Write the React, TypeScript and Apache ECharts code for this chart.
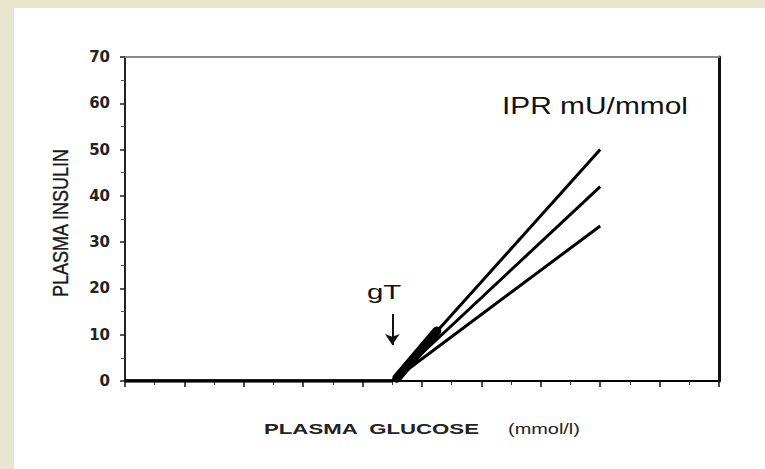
import React, { useEffect, useRef } from "react";
import * as echarts from "echarts";

// Axis ranges
const glucoseRange = [0, 20];
const glucoseInterval = 2;
const insulinRange = [0, 70];
const insulinInterval = 10;

// Glucose threshold (gT) and end of the response lines
const thresholdGlucose = 9;
const endGlucose = 16;

// Insulin at end of each line (three IPR values)
const iprEndInsulin = [50, 42, 33.5];

// Arrow marking gT (from, to insulin values)
const arrowInsulin = [14.5, 7.8];

// Dense overlapping start of the lines
const smudgePoints = [
  [9.15, 0.6],
  [10.5, 10.8],
];

export default function App() {
  const ref = useRef<HTMLDivElement>(null);

  useEffect(() => {
    if (!ref.current) return;
    const chart = echarts.init(ref.current, null, { renderer: "svg" });

    const lineSeries = iprEndInsulin.map((v, i) => ({
      type: "line",
      name: "IPR " + (i + 1),
      data: [
        [glucoseRange[0], 0],
        [thresholdGlucose, 0],
        [endGlucose, v],
      ],
      symbol: "none",
      lineStyle: { color: "#000", width: 3 },
      z: 5,
      markLine:
        i === 0
          ? {
              silent: true,
              symbol: ["none", "arrow"],
              symbolSize: 11,
              label: { show: false },
              lineStyle: { color: "#111", width: 2, type: "solid" },
              data: [
                [
                  { coord: [thresholdGlucose, arrowInsulin[0]] },
                  { coord: [thresholdGlucose, arrowInsulin[1]] },
                ],
              ],
            }
          : undefined,
    }));

    chart.setOption({
      animation: false,
      backgroundColor: "#e9e6d0",
      grid: { left: 125, right: 46, top: 57, bottom: 88, containLabel: false },
      xAxis: [
        {
          type: "value",
          min: glucoseRange[0],
          max: glucoseRange[1],
          interval: glucoseInterval,
          axisLine: { show: true, onZero: false, lineStyle: { color: "#000", width: 2 } },
          axisTick: { show: true, inside: false, length: 6, lineStyle: { color: "#111", width: 1.5 } },
          minorTick: { show: true, splitNumber: 2, length: 4, lineStyle: { color: "#333", width: 1 } },
          axisLabel: { show: false },
          splitLine: { show: false },
        },
        {
          type: "value",
          position: "top",
          min: glucoseRange[0],
          max: glucoseRange[1],
          axisLine: { show: true, onZero: false, lineStyle: { color: "#8a8a8a", width: 2 } },
          axisTick: { show: false },
          axisLabel: { show: false },
          splitLine: { show: false },
        },
      ],
      yAxis: [
        {
          type: "value",
          min: insulinRange[0],
          max: insulinRange[1],
          interval: insulinInterval,
          axisLine: { show: true, onZero: false, lineStyle: { color: "#222", width: 2 } },
          axisTick: { show: true, inside: false, length: 5, lineStyle: { color: "#222", width: 1.5 } },
          minorTick: { show: true, splitNumber: 2, length: 4, lineStyle: { color: "#555", width: 1 } },
          axisLabel: {
            show: true,
            margin: 15,
            fontFamily: "DejaVu Sans",
            fontWeight: "bold",
            fontSize: 15,
            color: "#222",
          },
          splitLine: { show: false },
        },
        {
          type: "value",
          position: "right",
          min: insulinRange[0],
          max: insulinRange[1],
          axisLine: { show: true, onZero: false, lineStyle: { color: "#111", width: 3 } },
          axisTick: { show: false },
          axisLabel: { show: false },
          splitLine: { show: false },
        },
      ],
      graphic: [
        {
          type: "rect",
          z: -100,
          silent: true,
          shape: { x: 14, y: 8, width: 765, height: 469 },
          style: { fill: "#ffffff" },
        },
        {
          type: "text",
          x: 60,
          y: 223,
          rotation: Math.PI / 2,
          scaleY: 1.2,
          style: {
            text: "PLASMA INSULIN",
            font: "18px 'Liberation Sans', Arial, sans-serif",
            fill: "#1a1a1a",
            stroke: "#1a1a1a",
            lineWidth: 0.3,
            textAlign: "center",
            textVerticalAlign: "middle",
          },
        },
        {
          type: "text",
          x: 264,
          y: 429,
          scaleX: 1.48,
          style: {
            text: "PLASMA  GLUCOSE",
            font: "bold 15px 'Liberation Sans', Arial, sans-serif",
            fill: "#222",
            textAlign: "left",
            textVerticalAlign: "middle",
          },
        },
        {
          type: "text",
          x: 508,
          y: 429,
          scaleX: 1.33,
          style: {
            text: "(mmol/l)",
            font: "15px 'Liberation Sans', Arial, sans-serif",
            fill: "#222",
            textAlign: "left",
            textVerticalAlign: "middle",
          },
        },
        {
          type: "text",
          x: 502,
          y: 106,
          scaleX: 1.3,
          style: {
            text: "IPR mU/mmol",
            font: "23px 'Liberation Sans', Arial, sans-serif",
            fill: "#111",
            textAlign: "left",
            textVerticalAlign: "middle",
          },
        },
        {
          type: "text",
          x: 367,
          y: 292,
          scaleX: 1.4,
          style: {
            text: "gT",
            font: "21px 'Liberation Sans', Arial, sans-serif",
            fill: "#111",
            textAlign: "left",
            textVerticalAlign: "middle",
          },
        },
      ],
      series: [
        ...lineSeries,
        {
          type: "line",
          name: "start",
          data: smudgePoints,
          symbol: "none",
          lineStyle: { color: "#000", width: 9, cap: "round" },
          z: 4,
        },
      ],
    });

    return () => chart.dispose();
  }, []);

  return (
    <div
      ref={ref}
      style={{ position: "fixed", left: 0, top: 0, width: 765, height: 469 }}
    />
  );
}
